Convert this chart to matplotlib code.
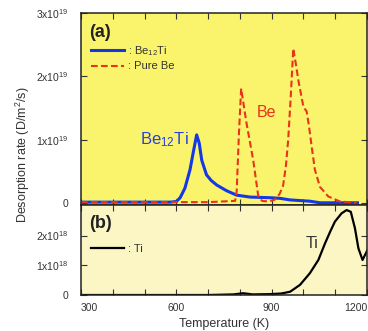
import matplotlib
matplotlib.use("Agg")
import matplotlib.pyplot as plt
from matplotlib.ticker import FixedLocator, FixedFormatter
import numpy as np

plt.rcParams['font.family'] = ['Liberation Sans', 'DejaVu Sans']
plt.rcParams['mathtext.fontset'] = 'custom'
plt.rcParams['mathtext.rm'] = 'Liberation Sans'
plt.rcParams['mathtext.it'] = 'Liberation Sans:italic'
plt.rcParams['mathtext.bf'] = 'Liberation Sans:bold'

# ---- data ----
be12ti_T = [300, 400, 500, 580, 600, 612, 627, 643, 655, 664, 672, 680, 695, 710,
            727, 758, 790, 832, 895, 926, 958, 1020, 1052, 1100, 1170]
be12ti_rate = [0.02, 0.02, 0.02, 0.02, 0.03, 0.09, 0.24, 0.53, 0.85, 1.08, 0.95, 0.68,
               0.45, 0.36, 0.29, 0.20, 0.13, 0.10, 0.09, 0.08, 0.055, 0.035, 0.01, 0.01, 0.01]  # x1e19

pure_be_T = [300, 500, 700, 785, 790, 797, 804, 812, 821, 842, 858, 870, 890, 910, 925,
             936, 945, 952, 960, 968, 976, 984, 1000, 1010, 1018, 1026, 1036, 1052, 1078,
             1115, 1167]
pure_be_rate = [0.02, 0.02, 0.02, 0.04, 0.2, 1.1, 1.81, 1.55, 1.26, 0.68, 0.11, 0.04, 0.03,
                0.06, 0.15, 0.28, 0.6, 1.0, 1.68, 2.44, 2.2, 1.94, 1.52, 1.45, 1.2, 0.89,
                0.53, 0.26, 0.11, 0.03, 0.01]  # x1e19

ti_T = [300, 500, 700, 780, 810, 840, 895, 930, 958, 989, 1020, 1047, 1068, 1084, 1099,
        1120, 1136, 1149, 1162, 1173, 1186, 1199, 1210]
ti_rate = [0.0, 0.0, 0.0, 0.02, 0.06, 0.02, 0.03, 0.05, 0.11, 0.34, 0.73, 1.18, 1.74,
           2.13, 2.47, 2.75, 2.86, 2.80, 2.25, 1.57, 1.18, 1.46, 1.7]  # x1e18

x_ticks = list(range(300, 1201, 100))
x_labels = ['300', '', '', '600', '', '', '900', '', '', '1200']
top_yticks = [0, 1e19, 2e19, 3e19]
top_ylabels = ['0', '1x10$^{19}$', '2x10$^{19}$', '3x10$^{19}$']
bot_yticks = [0, 1e18, 2e18]
bot_ylabels = ['0', '1x10$^{18}$', '2x10$^{18}$']

# ---- figure ----
W, H = 368, 331
fig = plt.figure(figsize=(W / 100, H / 100), dpi=100)
left = 81 / W
right = 367 / W
axA = fig.add_axes([left, 1 - 205 / H, right - left, 192 / H])
axB = fig.add_axes([left, 1 - 295 / H, right - left, 90 / H])

axA.set_facecolor('#faf46c')
axB.set_facecolor('#fbf6c4')

axA.plot(be12ti_T, np.array(be12ti_rate) * 1e19, color='#1438e6', lw=2.2,
         label=': Be$_{12}$Ti', solid_joinstyle='round')
axA.plot(pure_be_T, np.array(pure_be_rate) * 1e19, color='#e8341c', lw=1.5,
         ls=(0, (3.2, 1.6)), label=': Pure Be')
axB.plot(ti_T, np.array(ti_rate) * 1e18, color='black', lw=1.6, label=': Ti')

axA.set_xlim(300, 1200)
axB.set_xlim(300, 1200)
axA.set_ylim(-0.025e19, 3e19)
axB.set_ylim(0, 3.03e18)

for ax in (axA, axB):
    ax.xaxis.set_major_locator(FixedLocator(x_ticks))
    ax.tick_params(direction='in', length=4, width=0.8, top=True, right=True,
                   labelsize=7.5, colors='#333333', labelcolor='#333333')
    for s in ax.spines.values():
        s.set_linewidth(1.1)
        s.set_color('#222222')

axA.xaxis.set_major_formatter(FixedFormatter([''] * len(x_ticks)))
axB.xaxis.set_major_formatter(FixedFormatter(x_labels))
axB.tick_params(axis='x', pad=6)
lbls = axB.get_xticklabels()
lbls[0].set_ha('left')
lbls[-1].set_ha('right')

axA.yaxis.set_major_locator(FixedLocator(top_yticks))
axA.yaxis.set_major_formatter(FixedFormatter(top_ylabels))
axB.yaxis.set_major_locator(FixedLocator(bot_yticks))
axB.yaxis.set_major_formatter(FixedFormatter(bot_ylabels))
axA.tick_params(axis='y', pad=9)
axB.tick_params(axis='y', pad=9)

axB.set_xlabel('Temperature (K)', fontsize=9, color='#333333', labelpad=3)
fig.text(23 / W, 1 - 155 / H, 'Desorption rate (D/m$^2$/s)', rotation=90,
         ha='center', va='center', fontsize=9, color='#333333')

axA.text(0.03, 0.9, '(a)', transform=axA.transAxes, fontsize=13, fontweight='bold',
         ha='left', va='center', color='#222222')
axB.text(0.03, 0.79, '(b)', transform=axB.transAxes, fontsize=13, fontweight='bold',
         ha='left', va='center', color='#222222')

axA.legend(loc='upper left', bbox_to_anchor=(0.02, 0.86), frameon=False, fontsize=8,
           handlelength=3.0, handletextpad=0.3, labelspacing=0.3, borderaxespad=0,
           labelcolor='#333333')
axB.legend(loc='upper left', bbox_to_anchor=(0.02, 0.62), frameon=False, fontsize=8,
           handlelength=3.0, handletextpad=0.3, borderaxespad=0, labelcolor='#333333')

axA.text(563, 1.0e19, 'Be$_{12}$Ti', color='#2a3fe0', fontsize=12, ha='center', va='center')
axA.text(885, 1.44e19, 'Be', color='#e8341c', fontsize=11.5, ha='center', va='center')
axB.text(1027, 1.75e18, 'Ti', color='#333333', fontsize=11.5, ha='center', va='center')

fig.savefig('out.png', dpi=100)
